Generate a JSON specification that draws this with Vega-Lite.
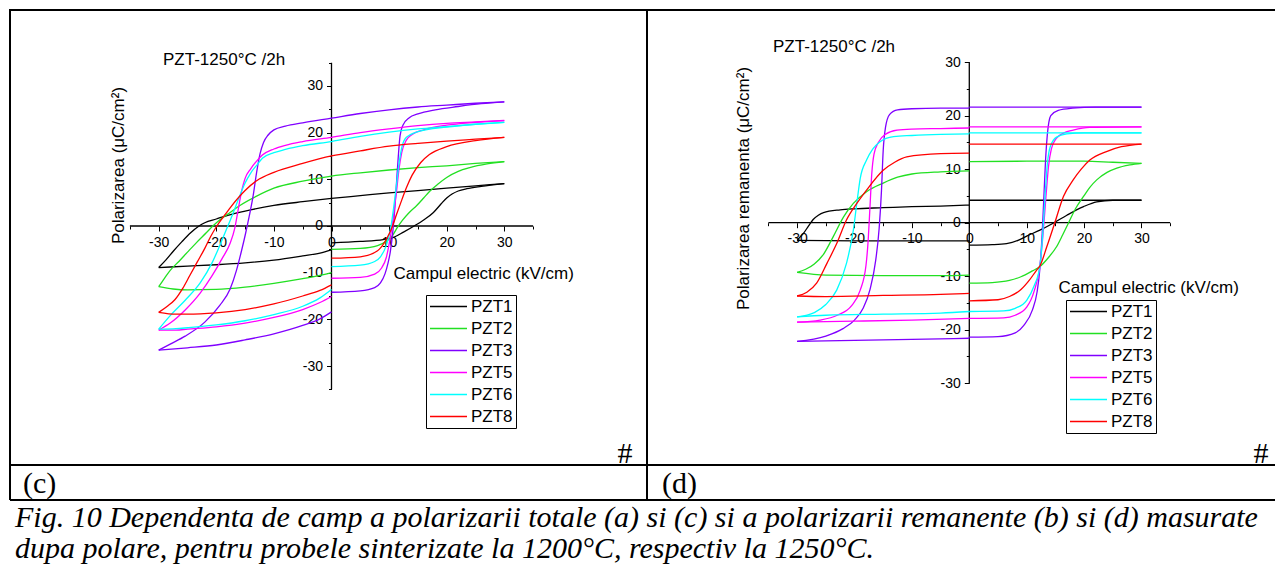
{
"$schema": "https://vega.github.io/schema/vega-lite/v6.json",
"padding": {"left": 9, "top": 9, "right": 0, "bottom": 0},
"background": "white",
"config": {
 "view": {"stroke": null},
 "axis": {"labelFont": "Liberation Sans", "labelFontSize": 14, "labelColor": "black", "tickColor": "black", "tickWidth": 1, "titleFont": "Liberation Sans", "titleFontSize": 17, "titleFontWeight": "normal", "titleColor": "black", "domain": false, "grid": false, "labelOverlap": false, "labelFlush": false},
 "legend": {"labelFont": "Liberation Sans", "labelFontSize": 17, "labelColor": "black"}
},
"datasets": {
"c": [
{"s":"PZT1","g":"u","E":-30,"P":-8.9},{"s":"PZT1","g":"u","E":-28.7,"P":-7.2},{"s":"PZT1","g":"u","E":-27.4,"P":-5.3},{"s":"PZT1","g":"u","E":-26,"P":-3.4},{"s":"PZT1","g":"u","E":-24.5,"P":-1.5},{"s":"PZT1","g":"u","E":-23,"P":0},{"s":"PZT1","g":"u","E":-22,"P":0.7},{"s":"PZT1","g":"u","E":-20,"P":1.5},{"s":"PZT1","g":"u","E":-18,"P":2.3},{"s":"PZT1","g":"u","E":-15,"P":3.2},{"s":"PZT1","g":"u","E":-10,"P":4.4},{"s":"PZT1","g":"u","E":-5,"P":5.2},{"s":"PZT1","g":"u","E":0,"P":5.9},{"s":"PZT1","g":"u","E":5,"P":6.5},{"s":"PZT1","g":"u","E":10,"P":7.1},{"s":"PZT1","g":"u","E":15,"P":7.6},{"s":"PZT1","g":"u","E":20,"P":8.1},{"s":"PZT1","g":"u","E":25,"P":8.6},{"s":"PZT1","g":"u","E":30,"P":9.1},
{"s":"PZT1","g":"l","E":-30,"P":-8.9},{"s":"PZT1","g":"l","E":-25,"P":-8.6},{"s":"PZT1","g":"l","E":-20,"P":-8.3},{"s":"PZT1","g":"l","E":-15,"P":-7.9},{"s":"PZT1","g":"l","E":-10,"P":-7.3},{"s":"PZT1","g":"l","E":-5,"P":-6.4},{"s":"PZT1","g":"l","E":-2,"P":-5.8},{"s":"PZT1","g":"l","E":0,"P":-5.1},
{"s":"PZT1","g":"r","E":0,"P":-3.6},{"s":"PZT1","g":"r","E":5,"P":-3.3},{"s":"PZT1","g":"r","E":9,"P":-2.9},{"s":"PZT1","g":"r","E":11,"P":-2.3},{"s":"PZT1","g":"r","E":12.5,"P":-1.3},{"s":"PZT1","g":"r","E":14.2,"P":-0.1},{"s":"PZT1","g":"r","E":16,"P":1.3},{"s":"PZT1","g":"r","E":17.7,"P":2.9},{"s":"PZT1","g":"r","E":19,"P":4.7},{"s":"PZT1","g":"r","E":20,"P":6.0},{"s":"PZT1","g":"r","E":21,"P":6.9},{"s":"PZT1","g":"r","E":22,"P":7.5},{"s":"PZT1","g":"r","E":23.5,"P":8.0},{"s":"PZT1","g":"r","E":26,"P":8.5},{"s":"PZT1","g":"r","E":30,"P":9.1},
{"s":"PZT2","g":"u","E":-30,"P":-13.0},{"s":"PZT2","g":"u","E":-29,"P":-11.2},{"s":"PZT2","g":"u","E":-28,"P":-9.5},{"s":"PZT2","g":"u","E":-26.5,"P":-7.6},{"s":"PZT2","g":"u","E":-25,"P":-5.6},{"s":"PZT2","g":"u","E":-23.4,"P":-3.5},{"s":"PZT2","g":"u","E":-21.7,"P":-1.4},{"s":"PZT2","g":"u","E":-20.6,"P":0},{"s":"PZT2","g":"u","E":-19.2,"P":1.5},{"s":"PZT2","g":"u","E":-17.6,"P":2.9},{"s":"PZT2","g":"u","E":-15.9,"P":4.4},{"s":"PZT2","g":"u","E":-13,"P":6.4},{"s":"PZT2","g":"u","E":-10,"P":8.1},{"s":"PZT2","g":"u","E":-5,"P":9.6},{"s":"PZT2","g":"u","E":0,"P":10.7},{"s":"PZT2","g":"u","E":5,"P":11.4},{"s":"PZT2","g":"u","E":10,"P":12.0},{"s":"PZT2","g":"u","E":15,"P":12.5},{"s":"PZT2","g":"u","E":20,"P":12.9},{"s":"PZT2","g":"u","E":25,"P":13.4},{"s":"PZT2","g":"u","E":30,"P":13.8},
{"s":"PZT2","g":"l","E":-30,"P":-13.0},{"s":"PZT2","g":"l","E":-27.5,"P":-13.5},{"s":"PZT2","g":"l","E":-25,"P":-13.7},{"s":"PZT2","g":"l","E":-20,"P":-13.6},{"s":"PZT2","g":"l","E":-15,"P":-13.1},{"s":"PZT2","g":"l","E":-10,"P":-12.3},{"s":"PZT2","g":"l","E":-5,"P":-11.3},{"s":"PZT2","g":"l","E":-2,"P":-10.6},{"s":"PZT2","g":"l","E":0,"P":-10.0},
{"s":"PZT2","g":"r","E":0,"P":-5.0},{"s":"PZT2","g":"r","E":5,"P":-4.8},{"s":"PZT2","g":"r","E":8,"P":-4.2},{"s":"PZT2","g":"r","E":9.5,"P":-3.3},{"s":"PZT2","g":"r","E":10.5,"P":-2.2},{"s":"PZT2","g":"r","E":11.5,"P":-0.2},{"s":"PZT2","g":"r","E":12.3,"P":1.2},{"s":"PZT2","g":"r","E":13.5,"P":2.9},{"s":"PZT2","g":"r","E":14.8,"P":4.4},{"s":"PZT2","g":"r","E":16,"P":6.0},{"s":"PZT2","g":"r","E":17.1,"P":7.5},{"s":"PZT2","g":"r","E":18.5,"P":9.0},{"s":"PZT2","g":"r","E":20,"P":10.4},{"s":"PZT2","g":"r","E":22,"P":11.7},{"s":"PZT2","g":"r","E":24,"P":12.5},{"s":"PZT2","g":"r","E":27,"P":13.3},{"s":"PZT2","g":"r","E":30,"P":13.8},
{"s":"PZT3","g":"u","E":-30,"P":-26.6},{"s":"PZT3","g":"u","E":-28,"P":-25.3},{"s":"PZT3","g":"u","E":-25.4,"P":-23.6},{"s":"PZT3","g":"u","E":-22,"P":-20.6},{"s":"PZT3","g":"u","E":-19.4,"P":-17.0},{"s":"PZT3","g":"u","E":-17.6,"P":-13.5},{"s":"PZT3","g":"u","E":-16.5,"P":-9.5},{"s":"PZT3","g":"u","E":-15.6,"P":-5.2},{"s":"PZT3","g":"u","E":-14.9,"P":-1.5},{"s":"PZT3","g":"u","E":-14.3,"P":2.0},{"s":"PZT3","g":"u","E":-13.6,"P":6.5},{"s":"PZT3","g":"u","E":-13.0,"P":11.5},{"s":"PZT3","g":"u","E":-12.4,"P":15.5},{"s":"PZT3","g":"u","E":-11.8,"P":17.9},{"s":"PZT3","g":"u","E":-11,"P":19.5},{"s":"PZT3","g":"u","E":-10,"P":20.6},{"s":"PZT3","g":"u","E":-8,"P":21.4},{"s":"PZT3","g":"u","E":-5,"P":22.1},{"s":"PZT3","g":"u","E":0,"P":23.1},{"s":"PZT3","g":"u","E":5,"P":24.1},{"s":"PZT3","g":"u","E":10,"P":24.9},{"s":"PZT3","g":"u","E":15,"P":25.5},{"s":"PZT3","g":"u","E":20,"P":25.9},{"s":"PZT3","g":"u","E":25,"P":26.3},{"s":"PZT3","g":"u","E":30,"P":26.6},
{"s":"PZT3","g":"l","E":-30,"P":-26.6},{"s":"PZT3","g":"l","E":-25,"P":-26.1},{"s":"PZT3","g":"l","E":-20,"P":-25.5},{"s":"PZT3","g":"l","E":-15,"P":-24.4},{"s":"PZT3","g":"l","E":-10,"P":-23.1},{"s":"PZT3","g":"l","E":-5,"P":-21.3},{"s":"PZT3","g":"l","E":-2,"P":-19.9},{"s":"PZT3","g":"l","E":0,"P":-18.4},
{"s":"PZT3","g":"r","E":0,"P":-14.2},{"s":"PZT3","g":"r","E":5,"P":-13.9},{"s":"PZT3","g":"r","E":7.5,"P":-13.2},{"s":"PZT3","g":"r","E":8.5,"P":-12.2},{"s":"PZT3","g":"r","E":9.3,"P":-10.2},{"s":"PZT3","g":"r","E":9.8,"P":-8.0},{"s":"PZT3","g":"r","E":10.2,"P":-5.6},{"s":"PZT3","g":"r","E":10.7,"P":-0.5},{"s":"PZT3","g":"r","E":11.0,"P":4.0},{"s":"PZT3","g":"r","E":11.3,"P":9.5},{"s":"PZT3","g":"r","E":11.6,"P":15.0},{"s":"PZT3","g":"r","E":11.9,"P":19.3},{"s":"PZT3","g":"r","E":12.4,"P":21.6},{"s":"PZT3","g":"r","E":13.5,"P":23.2},{"s":"PZT3","g":"r","E":15,"P":24.0},{"s":"PZT3","g":"r","E":18,"P":24.9},{"s":"PZT3","g":"r","E":22,"P":25.6},{"s":"PZT3","g":"r","E":26,"P":26.2},{"s":"PZT3","g":"r","E":30,"P":26.6},
{"s":"PZT5","g":"u","E":-30,"P":-22.3},{"s":"PZT5","g":"u","E":-28,"P":-20.8},{"s":"PZT5","g":"u","E":-25.4,"P":-18.0},{"s":"PZT5","g":"u","E":-22.8,"P":-14.4},{"s":"PZT5","g":"u","E":-20.7,"P":-10.6},{"s":"PZT5","g":"u","E":-19,"P":-7.0},{"s":"PZT5","g":"u","E":-17.6,"P":-3.7},{"s":"PZT5","g":"u","E":-16.8,"P":-0.5},{"s":"PZT5","g":"u","E":-16.2,"P":3.5},{"s":"PZT5","g":"u","E":-15.6,"P":7.5},{"s":"PZT5","g":"u","E":-15,"P":10.2},{"s":"PZT5","g":"u","E":-14,"P":12.3},{"s":"PZT5","g":"u","E":-13,"P":13.9},{"s":"PZT5","g":"u","E":-12,"P":15.2},{"s":"PZT5","g":"u","E":-10,"P":16.5},{"s":"PZT5","g":"u","E":-8,"P":17.3},{"s":"PZT5","g":"u","E":-5,"P":18.1},{"s":"PZT5","g":"u","E":0,"P":19.0},{"s":"PZT5","g":"u","E":5,"P":20.0},{"s":"PZT5","g":"u","E":10,"P":20.8},{"s":"PZT5","g":"u","E":15,"P":21.5},{"s":"PZT5","g":"u","E":20,"P":22.0},{"s":"PZT5","g":"u","E":25,"P":22.3},{"s":"PZT5","g":"u","E":30,"P":22.6},
{"s":"PZT5","g":"l","E":-30,"P":-22.3},{"s":"PZT5","g":"l","E":-27,"P":-22.3},{"s":"PZT5","g":"l","E":-25,"P":-22.1},{"s":"PZT5","g":"l","E":-20,"P":-21.6},{"s":"PZT5","g":"l","E":-15,"P":-20.8},{"s":"PZT5","g":"l","E":-10,"P":-19.6},{"s":"PZT5","g":"l","E":-5,"P":-17.9},{"s":"PZT5","g":"l","E":-2,"P":-16.4},{"s":"PZT5","g":"l","E":0,"P":-15.1},
{"s":"PZT5","g":"r","E":0,"P":-11.2},{"s":"PZT5","g":"r","E":5,"P":-11.0},{"s":"PZT5","g":"r","E":7.5,"P":-10.3},{"s":"PZT5","g":"r","E":8.7,"P":-9.0},{"s":"PZT5","g":"r","E":9.5,"P":-6.8},{"s":"PZT5","g":"r","E":10.2,"P":-2.5},{"s":"PZT5","g":"r","E":10.8,"P":2.5},{"s":"PZT5","g":"r","E":11.3,"P":7.5},{"s":"PZT5","g":"r","E":11.7,"P":12.0},{"s":"PZT5","g":"r","E":12.2,"P":15.8},{"s":"PZT5","g":"r","E":13,"P":18.4},{"s":"PZT5","g":"r","E":14,"P":19.6},{"s":"PZT5","g":"r","E":16,"P":20.6},{"s":"PZT5","g":"r","E":20,"P":21.6},{"s":"PZT5","g":"r","E":25,"P":22.2},{"s":"PZT5","g":"r","E":30,"P":22.6},
{"s":"PZT6","g":"u","E":-30,"P":-22.1},{"s":"PZT6","g":"u","E":-28,"P":-19.2},{"s":"PZT6","g":"u","E":-25.4,"P":-15.9},{"s":"PZT6","g":"u","E":-22.8,"P":-12.2},{"s":"PZT6","g":"u","E":-20.7,"P":-7.8},{"s":"PZT6","g":"u","E":-19.4,"P":-4.2},{"s":"PZT6","g":"u","E":-18,"P":0},{"s":"PZT6","g":"u","E":-17,"P":3.0},{"s":"PZT6","g":"u","E":-16.2,"P":5.6},{"s":"PZT6","g":"u","E":-15,"P":9.2},{"s":"PZT6","g":"u","E":-14,"P":11.4},{"s":"PZT6","g":"u","E":-13,"P":13.0},{"s":"PZT6","g":"u","E":-12,"P":14.5},{"s":"PZT6","g":"u","E":-10,"P":15.7},{"s":"PZT6","g":"u","E":-8,"P":16.4},{"s":"PZT6","g":"u","E":-5,"P":17.2},{"s":"PZT6","g":"u","E":0,"P":18.1},{"s":"PZT6","g":"u","E":5,"P":19.2},{"s":"PZT6","g":"u","E":10,"P":20.1},{"s":"PZT6","g":"u","E":15,"P":20.8},{"s":"PZT6","g":"u","E":20,"P":21.3},{"s":"PZT6","g":"u","E":25,"P":21.8},{"s":"PZT6","g":"u","E":30,"P":22.2},
{"s":"PZT6","g":"l","E":-30,"P":-22.1},{"s":"PZT6","g":"l","E":-27,"P":-22.0},{"s":"PZT6","g":"l","E":-25,"P":-21.8},{"s":"PZT6","g":"l","E":-20,"P":-21.2},{"s":"PZT6","g":"l","E":-15,"P":-20.3},{"s":"PZT6","g":"l","E":-10,"P":-19.0},{"s":"PZT6","g":"l","E":-5,"P":-17.2},{"s":"PZT6","g":"l","E":-2,"P":-15.4},{"s":"PZT6","g":"l","E":0,"P":-13.6},
{"s":"PZT6","g":"r","E":0,"P":-8.7},{"s":"PZT6","g":"r","E":5,"P":-8.4},{"s":"PZT6","g":"r","E":7.5,"P":-7.6},{"s":"PZT6","g":"r","E":8.5,"P":-6.6},{"s":"PZT6","g":"r","E":9.5,"P":-4.2},{"s":"PZT6","g":"r","E":10.3,"P":-0.3},{"s":"PZT6","g":"r","E":10.8,"P":4.0},{"s":"PZT6","g":"r","E":11.3,"P":9.0},{"s":"PZT6","g":"r","E":11.7,"P":13.2},{"s":"PZT6","g":"r","E":12.2,"P":16.8},{"s":"PZT6","g":"r","E":13,"P":19.0},{"s":"PZT6","g":"r","E":15,"P":20.2},{"s":"PZT6","g":"r","E":20,"P":21.2},{"s":"PZT6","g":"r","E":25,"P":21.8},{"s":"PZT6","g":"r","E":30,"P":22.2},
{"s":"PZT8","g":"u","E":-30,"P":-18.5},{"s":"PZT8","g":"u","E":-28.5,"P":-17.2},{"s":"PZT8","g":"u","E":-27.2,"P":-15.8},{"s":"PZT8","g":"u","E":-25.8,"P":-13.3},{"s":"PZT8","g":"u","E":-24.6,"P":-10.6},{"s":"PZT8","g":"u","E":-23.3,"P":-7.7},{"s":"PZT8","g":"u","E":-22,"P":-4.8},{"s":"PZT8","g":"u","E":-21,"P":-2.3},{"s":"PZT8","g":"u","E":-19.9,"P":0},{"s":"PZT8","g":"u","E":-18.8,"P":1.9},{"s":"PZT8","g":"u","E":-17.6,"P":3.9},{"s":"PZT8","g":"u","E":-15,"P":7.6},{"s":"PZT8","g":"u","E":-13,"P":9.7},{"s":"PZT8","g":"u","E":-10,"P":11.5},{"s":"PZT8","g":"u","E":-5,"P":13.4},{"s":"PZT8","g":"u","E":0,"P":15.0},{"s":"PZT8","g":"u","E":5,"P":16.1},{"s":"PZT8","g":"u","E":10,"P":17.1},{"s":"PZT8","g":"u","E":15,"P":17.7},{"s":"PZT8","g":"u","E":20,"P":18.2},{"s":"PZT8","g":"u","E":25,"P":18.6},{"s":"PZT8","g":"u","E":30,"P":19.0},
{"s":"PZT8","g":"l","E":-30,"P":-18.5},{"s":"PZT8","g":"l","E":-27,"P":-18.9},{"s":"PZT8","g":"l","E":-25,"P":-18.9},{"s":"PZT8","g":"l","E":-20,"P":-18.6},{"s":"PZT8","g":"l","E":-15,"P":-17.9},{"s":"PZT8","g":"l","E":-10,"P":-16.7},{"s":"PZT8","g":"l","E":-5,"P":-15.0},{"s":"PZT8","g":"l","E":-2,"P":-13.8},{"s":"PZT8","g":"l","E":0,"P":-12.6},
{"s":"PZT8","g":"r","E":0,"P":-6.9},{"s":"PZT8","g":"r","E":5,"P":-6.6},{"s":"PZT8","g":"r","E":8,"P":-5.3},{"s":"PZT8","g":"r","E":9.5,"P":-2.9},{"s":"PZT8","g":"r","E":10.5,"P":-0.3},{"s":"PZT8","g":"r","E":11.3,"P":2.5},{"s":"PZT8","g":"r","E":12,"P":4.9},{"s":"PZT8","g":"r","E":13,"P":8.2},{"s":"PZT8","g":"r","E":14,"P":10.9},{"s":"PZT8","g":"r","E":15.5,"P":13.6},{"s":"PZT8","g":"r","E":17,"P":15.3},{"s":"PZT8","g":"r","E":20,"P":17.0},{"s":"PZT8","g":"r","E":25,"P":18.3},{"s":"PZT8","g":"r","E":30,"P":19.0}
],
"d": [
{"s":"PZT1","g":"ur","E":0,"P":4.2},{"s":"PZT1","g":"ur","E":10,"P":4.2},{"s":"PZT1","g":"ur","E":20,"P":4.2},{"s":"PZT1","g":"ur","E":30,"P":4.2},
{"s":"PZT1","g":"ul","E":-30,"P":-3.3},{"s":"PZT1","g":"ul","E":-29.5,"P":-2.7},{"s":"PZT1","g":"ul","E":-28.9,"P":-2.0},{"s":"PZT1","g":"ul","E":-28,"P":-0.6},{"s":"PZT1","g":"ul","E":-27.2,"P":0.6},{"s":"PZT1","g":"ul","E":-26.3,"P":1.4},{"s":"PZT1","g":"ul","E":-25.4,"P":1.9},{"s":"PZT1","g":"ul","E":-22.5,"P":2.4},{"s":"PZT1","g":"ul","E":-20,"P":2.6},{"s":"PZT1","g":"ul","E":-15,"P":2.8},{"s":"PZT1","g":"ul","E":-10,"P":3.0},{"s":"PZT1","g":"ul","E":-5,"P":3.1},{"s":"PZT1","g":"ul","E":0,"P":3.3},
{"s":"PZT1","g":"l","E":-30,"P":-3.3},{"s":"PZT1","g":"l","E":-20,"P":-3.4},{"s":"PZT1","g":"l","E":-10,"P":-3.4},{"s":"PZT1","g":"l","E":0,"P":-3.4},
{"s":"PZT1","g":"r","E":0,"P":-4.2},{"s":"PZT1","g":"r","E":4,"P":-4.1},{"s":"PZT1","g":"r","E":6.5,"P":-3.9},{"s":"PZT1","g":"r","E":8.5,"P":-3.3},{"s":"PZT1","g":"r","E":10,"P":-2.5},{"s":"PZT1","g":"r","E":12.3,"P":-1.4},{"s":"PZT1","g":"r","E":14.6,"P":-0.1},{"s":"PZT1","g":"r","E":17,"P":1.4},{"s":"PZT1","g":"r","E":19.9,"P":3.0},{"s":"PZT1","g":"r","E":22.2,"P":3.9},{"s":"PZT1","g":"r","E":25,"P":4.2},{"s":"PZT1","g":"r","E":30,"P":4.2},
{"s":"PZT2","g":"ur","E":0,"P":11.4},{"s":"PZT2","g":"ur","E":10,"P":11.5},{"s":"PZT2","g":"ur","E":20,"P":11.5},{"s":"PZT2","g":"ur","E":25,"P":11.3},{"s":"PZT2","g":"ur","E":30,"P":11.1},
{"s":"PZT2","g":"ul","E":-30,"P":-9.3},{"s":"PZT2","g":"ul","E":-28.5,"P":-8.7},{"s":"PZT2","g":"ul","E":-27,"P":-7.7},{"s":"PZT2","g":"ul","E":-25.4,"P":-5.9},{"s":"PZT2","g":"ul","E":-23.7,"P":-2.6},{"s":"PZT2","g":"ul","E":-21.9,"P":1.1},{"s":"PZT2","g":"ul","E":-20.2,"P":3.6},{"s":"PZT2","g":"ul","E":-17.9,"P":5.8},{"s":"PZT2","g":"ul","E":-15,"P":7.4},{"s":"PZT2","g":"ul","E":-12.5,"P":8.5},{"s":"PZT2","g":"ul","E":-10,"P":9.1},{"s":"PZT2","g":"ul","E":-5,"P":9.5},{"s":"PZT2","g":"ul","E":0,"P":9.7},
{"s":"PZT2","g":"l","E":-30,"P":-9.3},{"s":"PZT2","g":"l","E":-25,"P":-9.8},{"s":"PZT2","g":"l","E":-15,"P":-9.9},{"s":"PZT2","g":"l","E":-5,"P":-9.9},{"s":"PZT2","g":"l","E":0,"P":-9.8},
{"s":"PZT2","g":"r","E":0,"P":-11.3},{"s":"PZT2","g":"r","E":4,"P":-11.2},{"s":"PZT2","g":"r","E":7,"P":-10.8},{"s":"PZT2","g":"r","E":9,"P":-10.1},{"s":"PZT2","g":"r","E":11,"P":-9.0},{"s":"PZT2","g":"r","E":12.3,"P":-8.2},{"s":"PZT2","g":"r","E":13.8,"P":-6.5},{"s":"PZT2","g":"r","E":15.2,"P":-4.5},{"s":"PZT2","g":"r","E":16.3,"P":-2.2},{"s":"PZT2","g":"r","E":17.3,"P":0},{"s":"PZT2","g":"r","E":18.5,"P":2.6},{"s":"PZT2","g":"r","E":19.9,"P":4.9},{"s":"PZT2","g":"r","E":21,"P":6.6},{"s":"PZT2","g":"r","E":22.2,"P":8.0},{"s":"PZT2","g":"r","E":24,"P":9.4},{"s":"PZT2","g":"r","E":25.7,"P":10.2},{"s":"PZT2","g":"r","E":28,"P":10.8},{"s":"PZT2","g":"r","E":30,"P":11.1},
{"s":"PZT3","g":"ur","E":0,"P":21.6},{"s":"PZT3","g":"ur","E":10,"P":21.6},{"s":"PZT3","g":"ur","E":20,"P":21.6},{"s":"PZT3","g":"ur","E":30,"P":21.6},
{"s":"PZT3","g":"ul","E":-30,"P":-22.2},{"s":"PZT3","g":"ul","E":-25,"P":-21.2},{"s":"PZT3","g":"ul","E":-22,"P":-19.8},{"s":"PZT3","g":"ul","E":-20,"P":-18.2},{"s":"PZT3","g":"ul","E":-18.5,"P":-16.0},{"s":"PZT3","g":"ul","E":-17.3,"P":-12.5},{"s":"PZT3","g":"ul","E":-16.3,"P":-7.0},{"s":"PZT3","g":"ul","E":-15.7,"P":-1.0},{"s":"PZT3","g":"ul","E":-15.3,"P":6.0},{"s":"PZT3","g":"ul","E":-15.0,"P":13.5},{"s":"PZT3","g":"ul","E":-14.6,"P":17.8},{"s":"PZT3","g":"ul","E":-13.9,"P":20.2},{"s":"PZT3","g":"ul","E":-12.5,"P":21.1},{"s":"PZT3","g":"ul","E":-10,"P":21.3},{"s":"PZT3","g":"ul","E":-5,"P":21.4},{"s":"PZT3","g":"ul","E":0,"P":21.4},
{"s":"PZT3","g":"l","E":-30,"P":-22.2},{"s":"PZT3","g":"l","E":-20,"P":-22.0},{"s":"PZT3","g":"l","E":-10,"P":-21.8},{"s":"PZT3","g":"l","E":0,"P":-21.6},
{"s":"PZT3","g":"r","E":0,"P":-21.4},{"s":"PZT3","g":"r","E":5,"P":-21.3},{"s":"PZT3","g":"r","E":8,"P":-20.6},{"s":"PZT3","g":"r","E":9.5,"P":-19.2},{"s":"PZT3","g":"r","E":11,"P":-16.3},{"s":"PZT3","g":"r","E":11.8,"P":-13.0},{"s":"PZT3","g":"r","E":12.3,"P":-8.6},{"s":"PZT3","g":"r","E":12.7,"P":-2.0},{"s":"PZT3","g":"r","E":13.0,"P":5.0},{"s":"PZT3","g":"r","E":13.3,"P":12.0},{"s":"PZT3","g":"r","E":13.6,"P":16.5},{"s":"PZT3","g":"r","E":14.2,"P":20.0},{"s":"PZT3","g":"r","E":15.5,"P":21.0},{"s":"PZT3","g":"r","E":18,"P":21.4},{"s":"PZT3","g":"r","E":22,"P":21.6},{"s":"PZT3","g":"r","E":30,"P":21.6},
{"s":"PZT5","g":"ur","E":0,"P":17.9},{"s":"PZT5","g":"ur","E":10,"P":17.9},{"s":"PZT5","g":"ur","E":20,"P":17.9},{"s":"PZT5","g":"ur","E":30,"P":17.9},
{"s":"PZT5","g":"ul","E":-30,"P":-18.6},{"s":"PZT5","g":"ul","E":-26,"P":-18.2},{"s":"PZT5","g":"ul","E":-23,"P":-17.3},{"s":"PZT5","g":"ul","E":-20.5,"P":-15.5},{"s":"PZT5","g":"ul","E":-19,"P":-12.6},{"s":"PZT5","g":"ul","E":-18,"P":-8.0},{"s":"PZT5","g":"ul","E":-17.6,"P":-3.0},{"s":"PZT5","g":"ul","E":-17.3,"P":3.0},{"s":"PZT5","g":"ul","E":-17.0,"P":9.0},{"s":"PZT5","g":"ul","E":-16.6,"P":12.8},{"s":"PZT5","g":"ul","E":-15.8,"P":15.1},{"s":"PZT5","g":"ul","E":-14.5,"P":16.6},{"s":"PZT5","g":"ul","E":-12.6,"P":17.3},{"s":"PZT5","g":"ul","E":-10,"P":17.5},{"s":"PZT5","g":"ul","E":-5,"P":17.6},{"s":"PZT5","g":"ul","E":0,"P":17.7},
{"s":"PZT5","g":"l","E":-30,"P":-18.6},{"s":"PZT5","g":"l","E":-20,"P":-18.4},{"s":"PZT5","g":"l","E":-10,"P":-18.2},{"s":"PZT5","g":"l","E":0,"P":-17.9},
{"s":"PZT5","g":"r","E":0,"P":-17.9},{"s":"PZT5","g":"r","E":6,"P":-17.8},{"s":"PZT5","g":"r","E":8,"P":-17.3},{"s":"PZT5","g":"r","E":10,"P":-15.8},{"s":"PZT5","g":"r","E":11.3,"P":-12.8},{"s":"PZT5","g":"r","E":12.3,"P":-8.1},{"s":"PZT5","g":"r","E":12.9,"P":-1.5},{"s":"PZT5","g":"r","E":13.4,"P":5.5},{"s":"PZT5","g":"r","E":13.8,"P":10.5},{"s":"PZT5","g":"r","E":14.3,"P":13.8},{"s":"PZT5","g":"r","E":15.2,"P":15.8},{"s":"PZT5","g":"r","E":16.5,"P":16.8},{"s":"PZT5","g":"r","E":18.1,"P":17.3},{"s":"PZT5","g":"r","E":21,"P":17.8},{"s":"PZT5","g":"r","E":30,"P":17.9},
{"s":"PZT6","g":"ur","E":0,"P":16.8},{"s":"PZT6","g":"ur","E":10,"P":16.8},{"s":"PZT6","g":"ur","E":20,"P":16.8},{"s":"PZT6","g":"ur","E":30,"P":16.8},
{"s":"PZT6","g":"ul","E":-30,"P":-17.6},{"s":"PZT6","g":"ul","E":-27,"P":-16.8},{"s":"PZT6","g":"ul","E":-25,"P":-15.3},{"s":"PZT6","g":"ul","E":-23.1,"P":-12.6},{"s":"PZT6","g":"ul","E":-21.4,"P":-7.6},{"s":"PZT6","g":"ul","E":-20.2,"P":-1.4},{"s":"PZT6","g":"ul","E":-19.6,"P":3.6},{"s":"PZT6","g":"ul","E":-19,"P":8.3},{"s":"PZT6","g":"ul","E":-17.9,"P":11.7},{"s":"PZT6","g":"ul","E":-16.8,"P":13.8},{"s":"PZT6","g":"ul","E":-15.6,"P":15.1},{"s":"PZT6","g":"ul","E":-13.2,"P":16.1},{"s":"PZT6","g":"ul","E":-10,"P":16.3},{"s":"PZT6","g":"ul","E":-5,"P":16.5},{"s":"PZT6","g":"ul","E":0,"P":16.6},
{"s":"PZT6","g":"l","E":-30,"P":-17.6},{"s":"PZT6","g":"l","E":-25,"P":-17.3},{"s":"PZT6","g":"l","E":-15,"P":-17.1},{"s":"PZT6","g":"l","E":-5,"P":-16.9},{"s":"PZT6","g":"l","E":0,"P":-16.6},
{"s":"PZT6","g":"r","E":0,"P":-16.6},{"s":"PZT6","g":"r","E":6,"P":-16.5},{"s":"PZT6","g":"r","E":8,"P":-16.0},{"s":"PZT6","g":"r","E":10,"P":-14.5},{"s":"PZT6","g":"r","E":11.3,"P":-11.8},{"s":"PZT6","g":"r","E":12.3,"P":-8.1},{"s":"PZT6","g":"r","E":12.8,"P":-2.0},{"s":"PZT6","g":"r","E":13.2,"P":5.0},{"s":"PZT6","g":"r","E":13.6,"P":11.0},{"s":"PZT6","g":"r","E":14.1,"P":14.2},{"s":"PZT6","g":"r","E":15.2,"P":16.0},{"s":"PZT6","g":"r","E":17,"P":16.6},{"s":"PZT6","g":"r","E":20,"P":16.8},{"s":"PZT6","g":"r","E":30,"P":16.8},
{"s":"PZT8","g":"ur","E":0,"P":14.7},{"s":"PZT8","g":"ur","E":10,"P":14.7},{"s":"PZT8","g":"ur","E":20,"P":14.7},{"s":"PZT8","g":"ur","E":30,"P":14.7},
{"s":"PZT8","g":"ul","E":-30,"P":-13.7},{"s":"PZT8","g":"ul","E":-28.3,"P":-13.0},{"s":"PZT8","g":"ul","E":-26.6,"P":-11.3},{"s":"PZT8","g":"ul","E":-24.8,"P":-7.6},{"s":"PZT8","g":"ul","E":-23.1,"P":-3.9},{"s":"PZT8","g":"ul","E":-21.4,"P":0.5},{"s":"PZT8","g":"ul","E":-19.6,"P":3.6},{"s":"PZT8","g":"ul","E":-17.9,"P":6.1},{"s":"PZT8","g":"ul","E":-15,"P":9.8},{"s":"PZT8","g":"ul","E":-13,"P":11.3},{"s":"PZT8","g":"ul","E":-10.9,"P":12.3},{"s":"PZT8","g":"ul","E":-5,"P":12.9},{"s":"PZT8","g":"ul","E":0,"P":13.0},
{"s":"PZT8","g":"l","E":-30,"P":-13.7},{"s":"PZT8","g":"l","E":-25,"P":-13.8},{"s":"PZT8","g":"l","E":-15,"P":-13.6},{"s":"PZT8","g":"l","E":-5,"P":-13.4},{"s":"PZT8","g":"l","E":0,"P":-13.2},
{"s":"PZT8","g":"r","E":0,"P":-14.6},{"s":"PZT8","g":"r","E":5,"P":-14.4},{"s":"PZT8","g":"r","E":7,"P":-13.8},{"s":"PZT8","g":"r","E":9,"P":-12.5},{"s":"PZT8","g":"r","E":10.5,"P":-10.7},{"s":"PZT8","g":"r","E":11.7,"P":-8.9},{"s":"PZT8","g":"r","E":12.3,"P":-8.1},{"s":"PZT8","g":"r","E":13.5,"P":-4.5},{"s":"PZT8","g":"r","E":14.9,"P":0},{"s":"PZT8","g":"r","E":16.4,"P":4.9},{"s":"PZT8","g":"r","E":18.1,"P":8.0},{"s":"PZT8","g":"r","E":19.5,"P":10.0},{"s":"PZT8","g":"r","E":21,"P":11.7},{"s":"PZT8","g":"r","E":23.9,"P":13.3},{"s":"PZT8","g":"r","E":26.5,"P":14.2},{"s":"PZT8","g":"r","E":30,"P":14.7}
]
},
"columns": 2,
"spacing": 0,
"bounds": "flush",
"resolve": {"scale": {"color": "independent"}, "legend": {"color": "independent"}},
"concat": [
{
 "width": 637, "height": 455,
 "view": {"stroke": "black", "strokeWidth": 2},
 "resolve": {"axis": {"x": "independent", "y": "independent"}},
 "layer": [
  {"data": {"values": [{}]}, "mark": {"type": "rule", "color": "black", "strokeWidth": 1.3},
   "encoding": {"x": {"datum": -35, "type": "quantitative", "scale": {"domain": [-55.816, 54.774], "nice": false, "zero": false},
     "axis": {"orient": "bottom", "offset": -239, "values": [-35,-25,-15,-5,5,15,25,35], "labels": false, "tickSize": 3, "title": null}}, "x2": {"datum": 35},
    "y": {"datum": 0, "type": "quantitative", "scale": {"domain": [-51.21, 46.28], "nice": false, "zero": false}, "axis": null}}},
  {"data": {"values": [{}]}, "mark": {"type": "rule", "color": "black", "strokeWidth": 1.3},
   "encoding": {"x": {"datum": 0, "type": "quantitative", "scale": {"domain": [-55.816, 54.774], "nice": false, "zero": false}, "axis": null},
    "y": {"datum": -35, "type": "quantitative", "scale": {"domain": [-51.21, 46.28], "nice": false, "zero": false},
     "axis": {"orient": "left", "offset": -321.5, "values": [-35,-25,-15,-5,5,15,25,35], "labels": false, "tickSize": 3, "title": null}}, "y2": {"datum": 35}}},
  {"data": {"name": "c"}, "mark": {"type": "line", "interpolate": "monotone", "strokeWidth": 1.3},
   "encoding": {
    "x": {"field": "E", "type": "quantitative", "scale": {"domain": [-55.816, 54.774], "nice": false, "zero": false},
     "axis": {"orient": "bottom", "offset": -239, "values": [-30,-20,-10,0,10,20,30], "labelExpr": "'' + datum.value", "tickSize": 5, "labelPadding": 4,
      "title": "Campul electric (kV/cm)", "titleX": 383, "titleY": 47, "titleAlign": "left", "titleBaseline": "middle", "titleAngle": 0}},
    "y": {"field": "P", "type": "quantitative", "scale": {"domain": [-51.21, 46.28], "nice": false, "zero": false},
     "axis": {"orient": "left", "offset": -321.5, "values": [-30,-20,-10,0,10,20,30], "labelExpr": "'' + datum.value", "tickSize": 5, "labelPadding": 4,
      "title": "Polarizarea (μC/cm²)", "titleX": -213.5, "titleY": 155, "titleAlign": "center", "titleBaseline": "middle", "titleAngle": 270}},
    "color": {"field": "s", "type": "nominal",
     "scale": {"domain": ["PZT1","PZT2","PZT3","PZT5","PZT6","PZT8"], "range": ["#000000","#22e022","#8000ff","#ff00ff","#00ffff","#ff0000"]},
     "legend": {"orient": "none", "legendX": 416, "legendY": 285, "title": null, "strokeColor": "black", "fillColor": "white", "padding": 3, "symbolType": "stroke", "symbolSize": 1369, "symbolStrokeWidth": 1.5, "labelOffset": 3, "clipHeight": 17, "rowPadding": 4}},
    "detail": {"field": "g"}}},
  {"data": {"values": [{}]}, "mark": {"type": "text", "text": "PZT-1250°C /2h", "align": "left", "baseline": "middle", "font": "Liberation Sans", "fontSize": 17, "color": "black"},
   "encoding": {"x": {"datum": -29.25, "type": "quantitative", "scale": {"domain": [-55.816, 54.774], "nice": false, "zero": false}, "axis": null},
    "y": {"datum": 35.57, "type": "quantitative", "scale": {"domain": [-51.21, 46.28], "nice": false, "zero": false}, "axis": null}}},
  {"data": {"values": [{}]}, "mark": {"type": "text", "text": "#", "align": "center", "baseline": "alphabetic", "font": "Liberation Serif", "fontSize": 30, "color": "black"},
   "encoding": {"x": {"datum": 50.95, "type": "quantitative", "scale": {"domain": [-55.816, 54.774], "nice": false, "zero": false}, "axis": null},
    "y": {"datum": -50.78, "type": "quantitative", "scale": {"domain": [-51.21, 46.28], "nice": false, "zero": false}, "axis": null}}}
 ]
},
{
 "width": 628, "height": 455,
 "resolve": {"axis": {"x": "independent", "y": "independent"}},
 "layer": [
  {"data": {"values": [{}]}, "mark": {"type": "rule", "color": "black", "strokeWidth": 2},
   "encoding": {"x": {"datum": -56.15, "type": "quantitative", "scale": {"domain": [-56.15, 53.26], "nice": false, "zero": false}, "axis": null}, "x2": {"datum": 53.26},
    "y": {"datum": 39.757, "type": "quantitative", "scale": {"domain": [-45.29, 39.757], "nice": false, "zero": false}, "axis": null}}},
  {"data": {"values": [{}]}, "mark": {"type": "rule", "color": "black", "strokeWidth": 1.3},
   "encoding": {"x": {"datum": -35, "type": "quantitative", "scale": {"domain": [-56.15, 53.26], "nice": false, "zero": false},
     "axis": {"orient": "bottom", "offset": -242.3, "values": [-35,-25,-15,-5,5,15,25,35], "labels": false, "tickSize": 3, "title": null}}, "x2": {"datum": 35},
    "y": {"datum": 0, "type": "quantitative", "scale": {"domain": [-45.29, 39.757], "nice": false, "zero": false}, "axis": null}}},
  {"data": {"values": [{}]}, "mark": {"type": "rule", "color": "black", "strokeWidth": 1.3},
   "encoding": {"x": {"datum": 0, "type": "quantitative", "scale": {"domain": [-56.15, 53.26], "nice": false, "zero": false}, "axis": null},
    "y": {"datum": -30, "type": "quantitative", "scale": {"domain": [-45.29, 39.757], "nice": false, "zero": false},
     "axis": {"orient": "left", "offset": -322.3, "values": [-25,-15,-5,5,15,25], "labels": false, "tickSize": 3, "title": null}}, "y2": {"datum": 30}}},
  {"data": {"name": "d"}, "mark": {"type": "line", "interpolate": "monotone", "strokeWidth": 1.3},
   "encoding": {
    "x": {"field": "E", "type": "quantitative", "scale": {"domain": [-56.15, 53.26], "nice": false, "zero": false},
     "axis": {"orient": "bottom", "offset": -242.3, "values": [-30,-20,-10,0,10,20,30], "labelExpr": "'' + datum.value", "tickSize": 5, "labelPadding": 4,
      "title": "Campul electric (kV/cm)", "titleX": 411, "titleY": 64.3, "titleAlign": "left", "titleBaseline": "middle", "titleAngle": 0}},
    "y": {"field": "P", "type": "quantitative", "scale": {"domain": [-45.29, 39.757], "nice": false, "zero": false},
     "axis": {"orient": "left", "offset": -322.3, "values": [-30,-20,-10,0,10,20,30], "labelExpr": "'' + datum.value", "tickSize": 5, "labelPadding": 4,
      "title": "Polarizarea remanenta (μC/cm²)", "titleX": -226.3, "titleY": 178, "titleAlign": "center", "titleBaseline": "middle", "titleAngle": 270}},
    "color": {"field": "s", "type": "nominal",
     "scale": {"domain": ["PZT1","PZT2","PZT3","PZT5","PZT6","PZT8"], "range": ["#000000","#22e022","#8000ff","#ff00ff","#00ffff","#ff0000"]},
     "legend": {"orient": "none", "legendX": 419, "legendY": 290, "title": null, "strokeColor": "black", "fillColor": "white", "padding": 3, "symbolType": "stroke", "symbolSize": 1369, "symbolStrokeWidth": 1.5, "labelOffset": 3, "clipHeight": 17, "rowPadding": 4}},
    "detail": {"field": "g"}}},
  {"data": {"values": [{}]}, "mark": {"type": "text", "text": "PZT-1250°C /2h", "align": "left", "baseline": "middle", "font": "Liberation Sans", "fontSize": 17, "color": "black"},
   "encoding": {"x": {"datum": -34.2, "type": "quantitative", "scale": {"domain": [-56.15, 53.26], "nice": false, "zero": false}, "axis": null},
    "y": {"datum": 32.75, "type": "quantitative", "scale": {"domain": [-45.29, 39.757], "nice": false, "zero": false}, "axis": null}}},
  {"data": {"values": [{}]}, "mark": {"type": "text", "text": "#", "align": "center", "baseline": "alphabetic", "font": "Liberation Serif", "fontSize": 30, "color": "black"},
   "encoding": {"x": {"datum": 50.82, "type": "quantitative", "scale": {"domain": [-56.15, 53.26], "nice": false, "zero": false}, "axis": null},
    "y": {"datum": -44.92, "type": "quantitative", "scale": {"domain": [-45.29, 39.757], "nice": false, "zero": false}, "axis": null}}}
 ]
},
{
 "width": 637, "height": 100,
 "layer": [
  {"data": {"values": [{}]}, "mark": {"type": "rule", "color": "black", "strokeWidth": 2},
   "encoding": {"x": {"datum": 0, "type": "quantitative", "scale": {"domain": [0, 1], "nice": false, "zero": false}, "axis": null}, "x2": {"datum": 1},
    "y": {"datum": 1, "type": "quantitative", "scale": {"domain": [0, 1], "nice": false, "zero": false}, "axis": null}}},
  {"data": {"values": [{}]}, "mark": {"type": "rule", "color": "black", "strokeWidth": 2},
   "encoding": {"x": {"datum": 0, "type": "quantitative", "scale": {"domain": [0, 1], "nice": false, "zero": false}, "axis": null}, "x2": {"datum": 1},
    "y": {"datum": 0.65, "type": "quantitative", "scale": {"domain": [0, 1], "nice": false, "zero": false}, "axis": null}}},
  {"data": {"values": [{}]}, "mark": {"type": "rule", "color": "black", "strokeWidth": 2},
   "encoding": {"x": {"datum": 0, "type": "quantitative", "scale": {"domain": [0, 1], "nice": false, "zero": false}, "axis": null},
    "y": {"datum": 0.65, "type": "quantitative", "scale": {"domain": [0, 1], "nice": false, "zero": false}, "axis": null}, "y2": {"datum": 1}}},
  {"data": {"values": [{}]}, "mark": {"type": "rule", "color": "black", "strokeWidth": 2},
   "encoding": {"x": {"datum": 1, "type": "quantitative", "scale": {"domain": [0, 1], "nice": false, "zero": false}, "axis": null},
    "y": {"datum": 0.65, "type": "quantitative", "scale": {"domain": [0, 1], "nice": false, "zero": false}, "axis": null}, "y2": {"datum": 1}}},
  {"data": {"values": [{}]}, "mark": {"type": "text", "text": "(c)", "align": "left", "baseline": "alphabetic", "font": "Liberation Serif", "fontSize": 30, "color": "black"},
   "encoding": {"x": {"datum": 0.0204, "type": "quantitative", "scale": {"domain": [0, 1], "nice": false, "zero": false}, "axis": null},
    "y": {"datum": 0.72, "type": "quantitative", "scale": {"domain": [0, 1], "nice": false, "zero": false}, "axis": null}}},
  {"data": {"values": [{}]}, "mark": {"type": "text", "text": ["Fig. 10 Dependenta de camp a polarizarii totale (a) si (c) si a polarizarii remanente (b) si (d)  masurate", "dupa polare, pentru probele sinterizate la 1200°C, respectiv la 1250°C."], "align": "left", "baseline": "alphabetic", "font": "Liberation Serif", "fontStyle": "italic", "fontSize": 30, "lineHeight": 31, "color": "black"},
   "encoding": {"x": {"datum": 0.00785, "type": "quantitative", "scale": {"domain": [0, 1], "nice": false, "zero": false}, "axis": null},
    "y": {"datum": 0.38, "type": "quantitative", "scale": {"domain": [0, 1], "nice": false, "zero": false}, "axis": null}}}
 ]
},
{
 "width": 628, "height": 100,
 "layer": [
  {"data": {"values": [{}]}, "mark": {"type": "rule", "color": "black", "strokeWidth": 2},
   "encoding": {"x": {"datum": 0, "type": "quantitative", "scale": {"domain": [0, 1], "nice": false, "zero": false}, "axis": null}, "x2": {"datum": 1},
    "y": {"datum": 1, "type": "quantitative", "scale": {"domain": [0, 1], "nice": false, "zero": false}, "axis": null}}},
  {"data": {"values": [{}]}, "mark": {"type": "rule", "color": "black", "strokeWidth": 2},
   "encoding": {"x": {"datum": 0, "type": "quantitative", "scale": {"domain": [0, 1], "nice": false, "zero": false}, "axis": null}, "x2": {"datum": 1},
    "y": {"datum": 0.65, "type": "quantitative", "scale": {"domain": [0, 1], "nice": false, "zero": false}, "axis": null}}},
  {"data": {"values": [{}]}, "mark": {"type": "text", "text": "(d)", "align": "left", "baseline": "alphabetic", "font": "Liberation Serif", "fontSize": 30, "color": "black"},
   "encoding": {"x": {"datum": 0.0239, "type": "quantitative", "scale": {"domain": [0, 1], "nice": false, "zero": false}, "axis": null},
    "y": {"datum": 0.72, "type": "quantitative", "scale": {"domain": [0, 1], "nice": false, "zero": false}, "axis": null}}}
 ]
}
]
}
